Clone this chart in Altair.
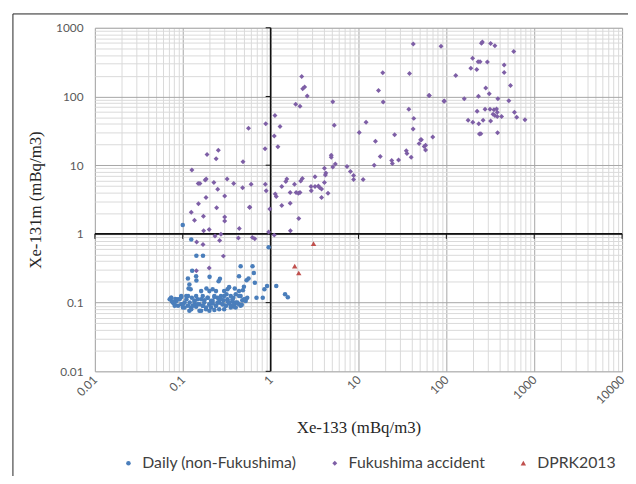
import altair as alt
import pandas as pd

# ---------------- data ----------------
daily_x = [0.128, 0.456, 0.622, 0.1145, 0.142, 0.143, 0.202, 0.256, 0.265, 0.437, 0.533, 0.561, 0.644, 0.662,
           0.911, 0.85, 1.16, 0.691, 0.814, 1.46, 0.119, 0.1165, 0.123, 0.162, 0.169, 0.186, 0.219, 0.239,
           0.201, 0.296, 0.323, 0.337, 0.391, 0.437, 0.484, 0.497, 0.401, 0.352, 0.315, 0.272, 0.249, 0.229,
           0.192, 0.176, 0.148, 0.136, 0.127, 0.1096, 0.0962, 0.0922, 0.0846, 0.074, 0.071, 0.0776, 0.081,
           0.0883, 0.0962, 0.105, 0.1005, 0.1145, 0.125, 0.142, 0.155, 0.169, 0.184, 0.201, 0.219, 0.239,
           0.26, 0.284, 0.309, 0.337, 0.368, 0.401, 0.437, 0.476, 0.519, 0.542, 0.456, 0.119, 0.162, 0.201,
           0.229, 0.296, 0.352, 0.384, 0.136, 0.21, 0.26, 0.291, 0.323, 0.377, 0.0755, 0.0824,
           0.074, 0.078, 0.081, 0.088, 0.096, 0.100, 0.105, 0.110, 0.115, 0.120, 0.125, 0.130, 0.136, 0.142,
           0.148, 0.155, 0.162, 0.169, 0.176, 0.184, 0.192, 0.201, 0.21, 0.219, 0.229, 0.239, 0.249, 0.26,
           0.272, 0.284, 0.296, 0.309, 0.323, 0.337, 0.352, 0.368, 0.384, 0.401, 0.419, 0.438, 0.456, 0.497,
           0.52, 0.1, 0.95, 0.125, 0.143, 0.17, 1.57, 0.47]
daily_y = [0.292, 0.337, 0.337, 0.224, 0.242, 0.210, 0.237, 0.205, 0.222, 0.242, 0.212, 0.224, 0.270, 0.194,
           0.174, 0.156, 0.174, 0.118, 0.118, 0.132, 0.184, 0.161, 0.156, 0.147, 0.125, 0.161, 0.156, 0.147,
           0.147, 0.147, 0.156, 0.168, 0.161, 0.147, 0.151, 0.170, 0.132, 0.125, 0.132, 0.125, 0.118, 0.121,
           0.118, 0.108, 0.112, 0.106, 0.118, 0.125, 0.121, 0.112, 0.106, 0.118, 0.112, 0.100, 0.095,
           0.090, 0.095, 0.100, 0.085, 0.090, 0.085, 0.087, 0.095, 0.090, 0.085, 0.093, 0.097, 0.090,
           0.100, 0.095, 0.090, 0.097, 0.104, 0.100, 0.095, 0.108, 0.112, 0.118, 0.125, 0.076, 0.076, 0.076,
           0.078, 0.080, 0.085, 0.087, 0.095, 0.106, 0.112, 0.108, 0.112, 0.118, 0.104, 0.113,
           0.118, 0.100, 0.090, 0.112, 0.125, 0.095, 0.085, 0.112, 0.125, 0.100, 0.080, 0.090, 0.106, 0.125,
           0.095, 0.076, 0.112, 0.090, 0.100, 0.080, 0.118, 0.095, 0.085, 0.106, 0.125, 0.090, 0.100, 0.080,
           0.112, 0.095, 0.125, 0.090, 0.106, 0.100, 0.090, 0.112, 0.095, 0.085, 0.100, 0.125, 0.090, 0.112,
           0.106, 1.35, 0.64, 0.83, 0.48, 0.48, 0.12, 0.093]

fuku_x = [0.254, 0.189, 0.24, 0.485, 0.127, 0.15, 0.157, 0.18, 0.185, 0.226, 0.32, 0.38, 0.48, 0.25, 0.30,
          0.184, 0.151, 0.243, 0.575, 0.125, 0.172, 0.3, 0.3, 0.136, 0.173, 0.2, 0.44, 0.233, 0.272, 0.263,
          0.43, 0.144, 0.17, 0.29, 0.2, 0.143,
          2.26, 2.32, 2.44, 2.61, 1.93, 2.16, 5.1, 5.3, 1.12, 0.88, 1.28, 1.1, 0.865, 1.21, 0.56,
          18.9, 38.1, 16.9, 19.1, 37.4, 42.6, 41.9, 63.5, 94, 87, 42, 12.2, 10.2, 25.8, 70, 15.6,
          52, 49, 56, 58, 35, 35.6, 39.8, 17.7, 23.9, 24.3, 28.6, 15.1, 11.3, 7.4, 8.1, 8.8, 8.8,
          4.9, 4.9, 5.1, 5.45, 4.1, 4.25, 4.1, 4.2, 4.5, 3.8, 3.6, 3.8, 3.5, 3.2, 3.2, 2.9, 2.3, 2.2,
          2.16, 2.07, 1.53, 1.49, 1.34, 1.67, 1.34, 1.87, 1.95, 1.67, 2.88, 2.09, 1.68, 1.13, 1.16, 0.98,
          0.87, 0.89, 0.95, 1.1, 0.6, 0.58, 0.62, 0.66,
          251, 257, 319, 357, 585, 199, 230, 242, 293, 455, 190, 222, 455, 128, 537, 281, 308, 64, 95,
          160, 232, 386, 514, 224, 276, 314, 348, 373, 380, 340, 357, 380, 425, 596, 632, 785, 177, 200,
          234, 262, 319, 238, 247, 383, 51, 58]
fuku_y = [16.5, 14.3, 12.4, 11.2, 8.5, 5.4, 5.4, 6.1, 6.3, 5.6, 6.3, 5.4, 4.7, 4.45, 3.57,
          3.4, 2.74, 2.4, 2.45, 2.06, 1.8, 1.76, 1.54, 1.58, 1.11, 1.16, 1.2, 0.93, 0.99, 0.8,
          0.87, 0.76, 0.70, 0.475, 0.32, 0.29,
          195, 130, 137, 102, 77, 72, 84, 38, 53, 40, 36.6, 26.5, 17.3, 18.5, 34.6,
          221, 216, 122, 83, 65, 48, 33.5, 103, 85.5, 540, 582, 42, 30, 27.8, 25.7, 22.3,
          23.5, 20.6, 18.7, 16.7, 16.2, 14.8, 13, 13.4, 11.7, 10.6, 11.9, 10.0, 6.2, 9.6, 8.1, 7.1, 6.2,
          14, 13.1, 9.4, 10.4, 9.0, 7.7, 5.6, 7.2, 3.9, 3.4, 4.75, 4.5, 5.0, 4.9, 6.8, 4.25, 6.4, 5.9,
          4.0, 3.9, 6.3, 5.8, 4.9, 2.8, 2.6, 5.3, 4.0, 4.0, 4.9, 1.67, 1.11, 3.8, 3.5, 2.3,
          5.3, 4.25, 1.07, 0.96, 5.3, 2.45, 0.89, 0.85,
          596, 622, 589, 546, 452, 359, 321, 321, 318, 288, 258, 247, 223, 202, 145, 133, 110, 103, 86,
          93, 101, 93, 87, 61, 65, 65, 64, 66, 59, 55, 53, 51, 51, 59, 50, 46, 45, 42,
          40, 45, 44, 28.4, 28.7, 29.7, 23.5, 19.5]

dprk_x = [3.08, 1.88, 2.09]
dprk_y = [0.72, 0.34, 0.27]

series_names = ["Daily (non-Fukushima)", "Fukushima accident", "DPRK2013"]
series_colors = ["#4A7EBB", "#7E5FA6", "#C0504D"]
series_shapes = ["circle", "diamond", "triangle-up"]
series_sizes = [21, 30, 50]

decades = [0.01, 0.1, 1, 10, 100, 1000, 10000]
x_ticks = [round(k * d, 6) for d in decades[:-1] for k in range(1, 10)] + [10000]
y_ticks = [round(k * d, 6) for d in decades[:-2] for k in range(1, 10)] + [1000]

# ---------------- tables ----------------
pts = pd.concat([
    pd.DataFrame({"x": daily_x, "y": daily_y, "series": series_names[0]}),
    pd.DataFrame({"x": fuku_x, "y": fuku_y, "series": series_names[1]}),
    pd.DataFrame({"x": dprk_x, "y": dprk_y, "series": series_names[2]}),
], ignore_index=True)

is_dec = "abs(log(datum.value)/LN10 - round(log(datum.value)/LN10)) < 0.001"
label_expr = f"{is_dec} ? format(datum.value, '~g') : ''"
grid_color = {"condition": {"test": is_dec, "value": "#a6a6a6"}, "value": "#d9d9d9"}

x_axis = alt.Axis(values=x_ticks, labelExpr=label_expr, gridColor=grid_color, gridWidth=1,
                  ticks=False, domain=False, labelAngle=-45, labelAlign="right", labelBaseline="middle",
                  labelFlush=False, labelOverlap=False,
                  labelBound=False, labelPadding=6, labelFont="Lato", labelFontSize=12,
                  labelColor="#595959", title="Xe-133 (mBq/m3)", titleFont="Liberation Serif",
                  titleFontSize=17, titleFontWeight="normal", titleColor="#262626", titlePadding=14)
y_axis = alt.Axis(values=y_ticks, labelExpr=label_expr, gridColor=grid_color, gridWidth=1,
                  ticks=False, domain=False, labelFlush=False, labelOverlap=False, labelBound=False,
                  labelPadding=12, labelFont="Lato", labelFontSize=12, labelColor="#595959",
                  title="Xe-131m (mBq/m3)", titleFont="Liberation Serif", titleFontSize=17,
                  titleFontWeight="normal", titleColor="#262626", titlePadding=11)

x_scale = alt.Scale(type="log", domain=[0.01, 10000], nice=False)
y_scale = alt.Scale(type="log", domain=[0.01, 1000], nice=False)
X = alt.X("x:Q", scale=x_scale, axis=x_axis)
Y = alt.Y("y:Q", scale=y_scale, axis=y_axis)

# black axis lines crossing at 1
vline = alt.Chart(pd.DataFrame({"x": [1]})).mark_rule(color="#111", strokeWidth=1.6).encode(x=X)
hline = alt.Chart(pd.DataFrame({"y": [1]})).mark_rule(color="#111", strokeWidth=1.6).encode(y=Y)

# small tick marks on those axis lines
xt = alt.Chart(pd.DataFrame({"x": [d for d in decades if d != 1], "y": [1] * 6})).mark_point(
    shape="M0,0L0,1", size=100, filled=False, stroke="#111", strokeWidth=1, opacity=1
).encode(x=X, y=Y)
yt = alt.Chart(pd.DataFrame({"x": [1] * 5, "y": [0.01, 0.1, 10, 100, 1000]})).mark_point(
    shape="M0,0L-1,0", size=100, filled=False, stroke="#111", strokeWidth=1, opacity=1
).encode(x=X, y=Y)

legend = alt.Legend(title=None, orient="none", direction="horizontal", legendX=26, legendY=433,
                    labelFont="Lato", labelFontSize=16, labelColor="#404040", columnPadding=30,
                    labelOffset=6, padding=0)

points = alt.Chart(pts).mark_point(filled=True, opacity=1, strokeWidth=0).encode(
    x=X, y=Y,
    color=alt.Color("series:N", scale=alt.Scale(domain=series_names, range=series_colors), legend=legend),
    shape=alt.Shape("series:N", scale=alt.Scale(domain=series_names, range=series_shapes), legend=legend),
    size=alt.Size("series:N", scale=alt.Scale(domain=series_names, range=series_sizes), legend=legend),
)

# decorative frame of the original figure (top and left edges)
frame_top = alt.Chart(pd.DataFrame({"k": [0]})).mark_rule(color="#222", strokeWidth=1).encode(
    x=alt.value(-83), x2=alt.value(540), y=alt.value(-14))
frame_left = alt.Chart(pd.DataFrame({"k": [0]})).mark_rule(color="#222", strokeWidth=1).encode(
    x=alt.value(-83), y=alt.value(-14), y2=alt.value(460))

chart = alt.layer(vline, hline, xt, yt, points, frame_top, frame_left).properties(
    width=534, height=348,
    autosize=alt.AutoSizeParams(type="none"),
    padding={"left": 88, "top": 17, "right": 6, "bottom": 103},
).configure_view(stroke="#a0a0a0", strokeWidth=1).configure(background="white")

chart.save("out.html", embed_options={"renderer": "svg", "actions": False})
